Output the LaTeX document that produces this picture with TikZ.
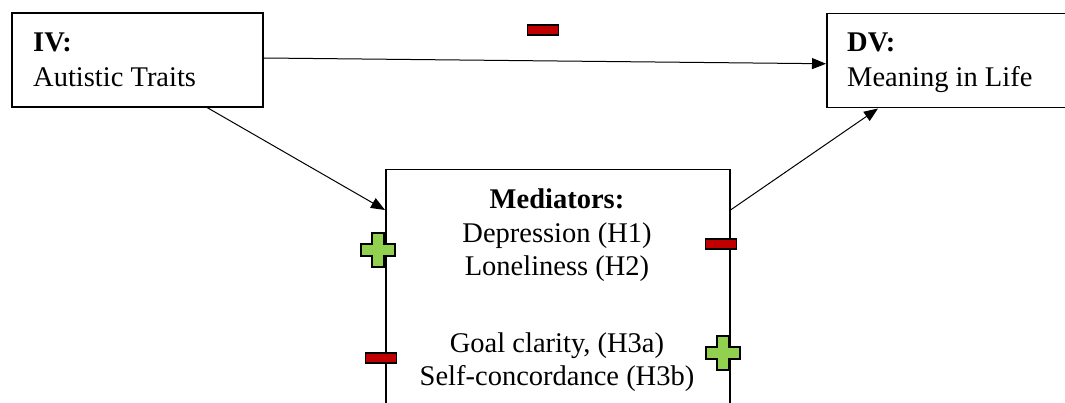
\documentclass[tikz,border=0pt]{standalone}
\usepackage{fontspec}
\setmainfont{Liberation Serif}
\usetikzlibrary{arrows.meta,calc}
\definecolor{minusred}{RGB}{192,0,0}
\definecolor{plusgreen}{RGB}{146,208,80}
\tikzset{
  box/.style={draw=black, line width=1.5pt, inner sep=0pt, fill=white},
  txt/.style={inner sep=0pt, font=\fontsize{28.5}{34}\selectfont},
  conn/.style={line width=1pt, -{Triangle[length=14pt,width=11pt]}},
  minussign/.style={draw=black, line width=1.8pt, fill=minusred, inner sep=0pt, minimum width=31pt, minimum height=10pt},
  plussign/.pic={\draw[line width=1.8pt, fill=plusgreen] (-6,-17)--(6,-17)--(6,-6)--(17,-6)--(17,6)--(6,6)--(6,17)--(-6,17)--(-6,6)--(-17,6)--(-17,-6)--(-6,-6)--cycle;}
}
\begin{document}
\begin{tikzpicture}[x=1pt,y=-1pt]
\useasboundingbox (0,0) rectangle (1065,403);
\clip (0,0) rectangle (1065,403);
\fill[white] (0,0) rectangle (1065,403);
% boxes
\node[box, minimum width=251pt, minimum height=94pt] (iv) at (137.5,60) {};
\node[box, minimum width=290pt, minimum height=94pt, anchor=north west] (dv) at (826,13) {};
\node[box, minimum width=344pt, minimum height=320pt, anchor=north west] (med) at (385,169) {};
% texts
\node[txt, anchor=base west] (ivh) at (33,52) {\textbf{IV:}};
\node[txt, anchor=base west] (ivt) at (33,87) {Autistic Traits};
\node[txt, anchor=base west] (dvh) at (847,52) {\textbf{DV:}};
\node[txt, anchor=base west] (dvt) at (847,87) {Meaning in Life};
\node[txt, anchor=base] (m0) at (557,209) {\textbf{Mediators:}};
\node[txt, anchor=base] (m1) at (557,243) {Depression (H1)};
\node[txt, anchor=base] (m2) at (557,276) {Loneliness (H2)};
\node[txt, anchor=base] (m3) at (557,352) {Goal clarity, (H3a)};
\node[txt, anchor=base] (m4) at (557,385) {Self-concordance (H3b)};
% connectors
\draw[conn] ([yshift=2pt]iv.east) -- ([yshift=-3pt]dv.west);
\draw[conn] ($(iv.south west)!0.777!(iv.south east)$) -- ($(med.north west)+(0,41)$);
\draw[conn] ($(med.north east)+(0,41)$) -- ($(dv.south west)+(52,0)$);
% signs
\node[minussign] (s1) at (543,30) {};
\node[minussign] (s2) at (381,358) {};
\node[minussign] (s3) at (721,244) {};
\pic at (378,250) {plussign};
\pic at (723,353) {plussign};
\end{tikzpicture}
\end{document}
